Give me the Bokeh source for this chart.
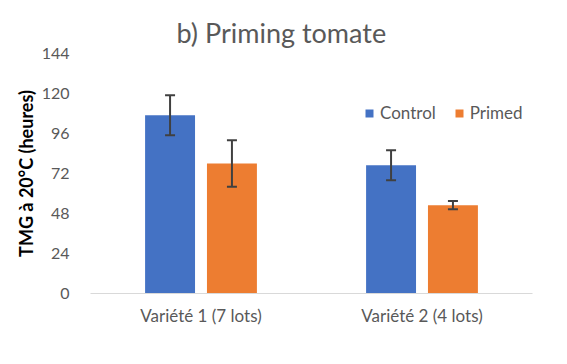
from bokeh.plotting import figure
from bokeh.models import ColumnDataSource, FactorRange, Whisker, Range1d, Legend, LegendItem, FixedTicker
from bokeh.transform import dodge
from bokeh.embed import file_html
from bokeh.resources import INLINE

categories = ["Variété 1 (7 lots)", "Variété 2 (4 lots)"]
control = [107, 77]
control_err = [12, 9]
primed = [78, 53]
primed_err = [14, 2.5]
y_ticks = [0, 24, 48, 72, 96, 120, 144]

src = ColumnDataSource(dict(
    cat=categories,
    control=control,
    c_lo=[v - e for v, e in zip(control, control_err)],
    c_hi=[v + e for v, e in zip(control, control_err)],
    primed=primed,
    p_lo=[v - e for v, e in zip(primed, primed_err)],
    p_hi=[v + e for v, e in zip(primed, primed_err)],
))

FONT = "Lato"
p = figure(x_range=FactorRange(*categories), y_range=Range1d(0, 144),
           width=551, height=348, output_backend="svg", toolbar_location=None,
           min_border_left=90, min_border_right=19, min_border_bottom=55, min_border_top=53)
p.title.text = "b) Priming tomate"
p.title.align = "left"
p.title.offset = 86
p.title.text_font = FONT
p.title.text_font_size = "27px"
p.title.text_font_style = "normal"
p.title.text_color = "#595959"

off = 0.14
w = 0.226
r1 = p.vbar(x=dodge("cat", -off, range=p.x_range), top="control", width=w, source=src,
            color="#4472C4", line_color=None)
r2 = p.vbar(x=dodge("cat", off, range=p.x_range), top="primed", width=w, source=src,
            color="#ED7D31", line_color=None)

for base, lo, hi in [(-off, "c_lo", "c_hi"), (off, "p_lo", "p_hi")]:
    wk = Whisker(base=dodge("cat", base, range=p.x_range), lower=lo, upper=hi, source=src,
                 line_color="#404040", line_width=2, level="overlay")
    wk.upper_head.size = 10
    wk.lower_head.size = 10
    wk.upper_head.line_color = "#404040"
    wk.lower_head.line_color = "#404040"
    wk.upper_head.line_width = 2
    wk.lower_head.line_width = 2
    p.add_layout(wk)

legend = Legend(items=[LegendItem(label="Control", renderers=[r1]),
                       LegendItem(label="Primed", renderers=[r2])],
                orientation="horizontal", location=(274, 170))
legend.background_fill_alpha = 0
legend.border_line_color = None
legend.label_text_font = FONT
legend.label_text_font_size = "17px"
legend.label_text_color = "#595959"
legend.glyph_width = 10
legend.glyph_height = 10
legend.label_standoff = 6
legend.spacing = 18
legend.padding = 4
p.add_layout(legend)

p.xgrid.grid_line_color = None
p.ygrid.grid_line_color = None
p.outline_line_color = None

p.yaxis.ticker = FixedTicker(ticks=y_ticks)
p.yaxis.axis_line_color = None
p.yaxis.major_tick_line_color = None
p.yaxis.minor_tick_line_color = None
p.yaxis.major_label_text_font = FONT
p.yaxis.major_label_text_font_size = "16px"
p.yaxis.major_label_text_color = "#595959"
p.yaxis.major_label_standoff = 15
p.yaxis.axis_label = "TMG à 20°C (heures)"
p.yaxis.axis_label_text_font = FONT
p.yaxis.axis_label_text_font_size = "18px"
p.yaxis.axis_label_text_font_style = "bold"
p.yaxis.axis_label_text_color = "#000000"
p.yaxis.axis_label_standoff = 2

p.xaxis.axis_line_color = "#d9d9d9"
p.xaxis.axis_line_width = 1
p.xaxis.major_tick_line_color = None
p.xaxis.minor_tick_line_color = None
p.xaxis.major_label_text_font = FONT
p.xaxis.major_label_text_font_size = "17px"
p.xaxis.major_label_text_color = "#595959"
p.xaxis.major_label_standoff = 5

open("out.html", "w").write(file_html(p, INLINE))
